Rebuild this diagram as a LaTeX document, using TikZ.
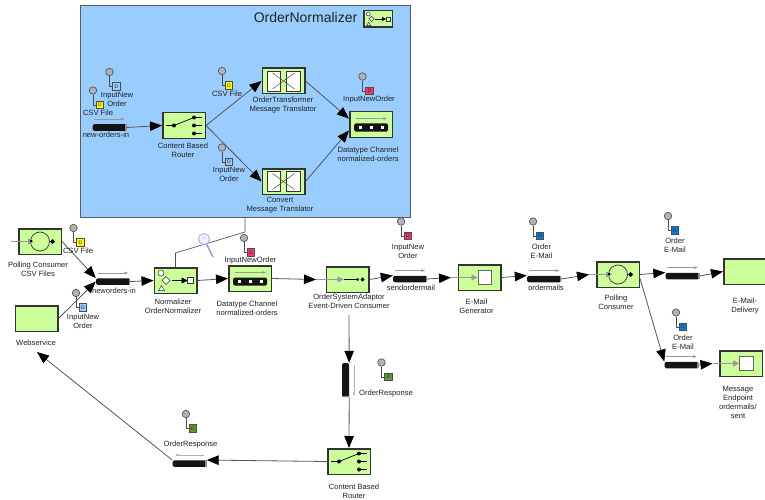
\documentclass[tikz,border=0pt]{standalone}
\usepackage{fontspec}
\setmainfont{Liberation Sans}
\usetikzlibrary{arrows.meta,shapes.geometric}

\definecolor{framefill}{HTML}{99CCFF}
\definecolor{boxfill}{HTML}{CCFF99}
\definecolor{boxline}{HTML}{333333}
\definecolor{wireline}{HTML}{555555}
\definecolor{markline}{HTML}{999999}
\definecolor{textcol}{HTML}{222222}
\definecolor{flagyellow}{HTML}{FFFF00}
\definecolor{flagpale}{HTML}{99CCFF}
\definecolor{flagred}{HTML}{FF3366}
\definecolor{flagblue}{HTML}{0080E0}
\definecolor{flaggreen}{HTML}{669933}

\tikzset{
  every node/.style={text=textcol},
  routeframe/.style={draw=boxline!80,line width=0.8pt,fill=framefill,minimum width=330pt,minimum height=212pt,inner sep=0},
  box/.style={draw=boxline,line width=1.5pt,fill=boxfill,minimum width=42.5pt,minimum height=25.5pt,inner sep=0},
  lbl/.style={font=\fontsize{7.6}{9}\selectfont,align=center,inner sep=0},
  pipebar/.style={fill=black!92,rounded corners=1.5pt,minimum width=34pt,minimum height=6.5pt,inner sep=0},
  wire/.style={draw=wireline,line width=0.8pt,-{Triangle[length=12pt,width=9.5pt,black]}},
  flowmark/.style={draw=markline,line width=0.7pt,-{Triangle[length=3.5pt,width=2.5pt]}},
  inflow/.style={draw=markline,line width=0.8pt,-{Triangle[length=6pt,width=6pt]}},
  pinhead/.style={circle,draw=black!70,line width=0.6pt,fill=black!30,minimum size=7.5pt,inner sep=0},
  pinflag/.style={draw=black!70,line width=0.6pt,minimum size=7.5pt,inner sep=0,font=\fontsize{5}{5}\selectfont},
  iconwhite/.style={draw=boxline,line width=0.7pt,fill=white},
}

% name, x, y
\newcommand{\pipe}[3]{
  \node[pipebar] (#1) at (#2,#3) {};
  \fill[black!45] ([xshift=-1.5pt]#1.north east) rectangle (#1.south east);
  \draw[flowmark] ([xshift=2pt,yshift=5pt]#1.north west) -- ([xshift=-2pt,yshift=5pt]#1.north east);
}
% name, x, y, colour
\newcommand{\datapin}[4]{
  \node[pinhead] (#1-head) at (#2,#3) {};
  \node[pinflag,fill=#4] (#1-flag) at (#2+7,#3+14.5) {D};
  \draw[draw=black!70,line width=0.6pt] (#1-head) |- (#1-flag);
}
\newcommand{\routericon}[1]{
  \begin{scope}[shift={(#1.center)}]
    \draw[line width=0.7pt] (-18,0) -- (-10,0) -- (10,-8);
    \foreach \y in {-8,0,8} {
      \draw[line width=0.7pt] (10,\y) -- (18,\y);
      \fill (10,\y) circle (2pt);
    }
    \fill (-10,0) circle (2pt);
  \end{scope}
}
\newcommand{\translatoricon}[1]{
  \begin{scope}[shift={(#1.center)}]
    \draw[iconwhite] (-16.5,-10) rectangle (-3.5,10);
    \draw[iconwhite] (2.5,-10) rectangle (16.5,10);
    \draw[black!70,line width=0.5pt] (-11,-8) -- (11,8);
    \draw[black!70,line width=0.5pt] (-11,8) -- (11,-8);
  \end{scope}
}
\newcommand{\datatypeicon}[1]{
  \begin{scope}[shift={(#1.center)}]
    \draw[flowmark] (-15,-6) -- (16,-6);
    \fill[black!92,rounded corners=1.5pt] (-17,-1) rectangle (17,7);
    \foreach \x in {-11,0,11}
      \fill[white] (\x-1.5,1.5) rectangle (\x+1.5,4.5);
  \end{scope}
}
\newcommand{\pollingicon}[1]{
  \begin{scope}[shift={(#1.center)}]
    \coordinate (#1-in) at (-29,0);
    \draw[boxline,line width=0.7pt] (0,0) circle (9.5pt);
    \draw[inflow] (#1-in) -- (-6,0);
    \fill (-9,-0.5) circle (1.3pt);
    \fill (10,0) -- (12.5,-2.5) -- (15,0) -- (12.5,2.5) -- cycle;
  \end{scope}
}
\newcommand{\eventicon}[1]{
  \begin{scope}[shift={(#1.center)}]
    \coordinate (#1-in) at (-31.5,0);
    \draw[inflow] (#1-in) -- (-4,0);
    \draw[line width=0.7pt] (-4,0) -- (10,0);
    \fill (10,0) circle (1.5pt);
    \fill (13,0) -- (15,-2.2) -- (17,0) -- (15,2.2) -- cycle;
  \end{scope}
}
\newcommand{\terminalicon}[1]{
  \begin{scope}[shift={(#1.center)}]
    \coordinate (#1-in) at (-28.5,0);
    \draw[inflow] (#1-in) -- (-2,0);
    \draw[iconwhite,draw=black!60] (-1.5,-7) rectangle (12,7);
  \end{scope}
}
% name, scale
\newcommand{\normalizericon}[2]{
  \begin{scope}[shift={(#1.center)},scale=#2]
    \draw[iconwhite,line width=0.5pt] (-14.5,-7.5) circle (3pt);
    \draw[iconwhite,line width=0.5pt] (-13.5,0) -- (-9.5,-4) -- (-5.5,0) -- (-9.5,4) -- cycle;
    \draw[iconwhite,line width=0.5pt] (-17,10) -- (-14,5) -- (-11,10) -- cycle;
    \draw[line width=0.7pt,-{Triangle[length=6pt,width=6pt,black,scale=#2]}] (-4,0) -- (12,0);
    \draw[iconwhite,line width=0.5pt] (12,-3) rectangle (18,3);
  \end{scope}
}

\begin{document}
\begin{tikzpicture}[x=1pt,y=-1pt]
\clip (0,0) rectangle (765,500);

% Sub route
\node[routeframe] (frame) at (245,111.5) {};
\node[font=\fontsize{14}{16}\selectfont,inner sep=0] (frame-title) at (305.5,17) {OrderNormalizer};
\node[box,minimum width=28.5pt,minimum height=16.5pt] (frame-icon) at (378,19) {};
\normalizericon{frame-icon}{0.67}

\pipe{sub-in}{109.5}{127.5}
\node[box] (sub-router) at (184,125.5) {};
\routericon{sub-router}
\node[box] (sub-transformer) at (283.5,81) {};
\translatoricon{sub-transformer}
\node[box] (sub-convert) at (283.5,181.5) {};
\translatoricon{sub-convert}
\node[box] (sub-datatype) at (371,124.5) {};
\datatypeicon{sub-datatype}

% Main route
\node[box] (csv-poller) at (40,241.5) {};
\pollingicon{csv-poller}
\node[box] (webservice) at (36.5,318.5) {};
\pipe{neworders}{113}{281.5}
\node[box] (normalizer) at (175.5,280.5) {};
\normalizericon{normalizer}{1}
\node[box] (datatype) at (250,278.5) {};
\datatypeicon{datatype}
\node[box] (adaptor) at (347.5,279.5) {};
\eventicon{adaptor}
\pipe{sendordermail}{410}{279}
\node[box] (generator) at (479.5,277.5) {};
\terminalicon{generator}
\pipe{ordermails}{544}{279}
\node[box] (mail-poller) at (618,274.5) {};
\pollingicon{mail-poller}
\pipe{delivery-pipe}{682.5}{276}
\node[box] (delivery) at (745,271.5) {};
\pipe{sent-pipe}{681.5}{365}
\node[box] (sent) at (741,363.5) {};
\terminalicon{sent}

% Response route
\node[pipebar,minimum width=7pt,minimum height=34pt] (response-in) at (345.5,380) {};
\fill[black!45] ([yshift=1.5pt]response-in.south west) rectangle (response-in.south east);
\draw[flowmark,draw=black!30] (354,365) -- (354,396);
\node[box] (response-router) at (349,461.5) {};
\routericon{response-router}
\node[pipebar] (response-out) at (189.5,463.5) {};
\fill[black!45] ([xshift=-1.5pt]response-out.north east) rectangle (response-out.south east);
\draw[flowmark,draw=black!30] (204,455) -- (175,455);

% Connectors
\coordinate (adaptor-out) at (349,315);
\coordinate (web-in) at (37,352);
\coordinate (link-a) at (175.5,253);
\coordinate (link-b) at (245,232);
\draw[wireline,line width=0.7pt] (normalizer.north) -- (link-a) -- (link-b) -- (frame.south);
\draw[wire] (sub-in.east) -- (sub-router.west);
\draw[wire] (sub-router.east) -- (sub-transformer.west);
\draw[wire] (sub-router.east) -- (sub-convert.west);
\draw[wire] (sub-transformer.east) -- (sub-datatype.165);
\draw[wire] (sub-convert.east) -- (sub-datatype.195);
\draw[wire] (csv-poller.east) -- (neworders.north west);
\draw[wire] (webservice.east) -- (neworders.west);
\draw[wire] (neworders.east) -- (normalizer.west);
\draw[wire] (normalizer.east) -- (datatype.west);
\draw[wire] (datatype.east) -- (adaptor-in);
\draw[wire] (adaptor.east) -- (sendordermail.north west);
\draw[wire] (sendordermail.east) -- (generator-in);
\draw[wire] (generator.east) -- (ordermails.north west);
\draw[wire] (ordermails.east) -- (mail-poller-in);
\draw[wire] (mail-poller.east) -- (delivery-pipe.north west);
\draw[wire] (delivery-pipe.east) -- (delivery.west);
\draw[wire] (mail-poller.-10) -- (sent-pipe.north west);
\draw[wire] (sent-pipe.east) -- (sent-in);
\draw[wire] (adaptor-out) -- (response-in.north east);
\draw[wire] (response-in.south east) -- (response-router.north);
\draw[wire] (response-router.west) -- (response-out.north east);
\draw[wire] (response-out.north west) -- (web-in);

% Magnifier
\node[circle,draw=black!20!blue!30,line width=1pt,fill=white!80!framefill,minimum size=11pt,inner sep=0,font=\fontsize{6}{6}\selectfont,text=black!20!blue!30] (magnifier) at (204,239) {+};
\coordinate (magnifier-end) at (213,257);
\draw[blue!30!black!40,line width=1.5pt] (magnifier) -- (magnifier-end);

% Data pins
\datapin{pin-a}{109.5}{72}{flagpale}
\datapin{pin-b}{93}{90.5}{flagyellow}
\datapin{pin-c}{222}{71}{flagyellow}
\datapin{pin-d}{222}{147.5}{flagpale}
\datapin{pin-e}{362.5}{76.5}{flagred}
\datapin{pin-f}{73.5}{228}{flagyellow}
\datapin{pin-g}{76}{293}{flagpale}
\datapin{pin-h}{244}{238}{flagred}
\datapin{pin-i}{401}{221.5}{flagred}
\datapin{pin-j}{533}{221.5}{flagblue}
\datapin{pin-k}{668}{216}{flagblue}
\datapin{pin-l}{676}{312.5}{flagblue}
\datapin{pin-m}{381.5}{362.5}{flaggreen}
\datapin{pin-n}{186}{414}{flaggreen}

% Labels
\node[lbl] (l-sub-in) at (106,135) {new-orders-in};
\node[lbl] (l-sub-router) at (183,150) {Content Based\\Router};
\node[lbl] (l-sub-transformer) at (283,105) {OrderTransformer\\Message Translator};
\node[lbl] (l-sub-convert) at (280,205) {Convert\\Message Translator};
\node[lbl] (l-sub-datatype) at (368,154) {Datatype Channel\\normalized-orders};
\node[lbl] (l-pin-a) at (117,99.5) {InputNew\\Order};
\node[lbl] (l-pin-b) at (98,113) {CSV File};
\node[lbl] (l-pin-c) at (227,93.5) {CSV File};
\node[lbl] (l-pin-d) at (229,174.5) {InputNew\\Order};
\node[lbl] (l-pin-e) at (369,99.5) {InputNewOrder};

\node[lbl] (l-csv-poller) at (38,269) {Polling Consumer\\CSV Files};
\node[lbl] (l-webservice) at (36,343) {Webservice};
\node[lbl] (l-pin-f) at (78,251) {CSV File};
\node[lbl] (l-pin-g) at (83,321) {InputNew\\Order};
\node[lbl] (l-neworders) at (114,291) {neworders-in};
\node[lbl] (l-normalizer) at (173,306.5) {Normalizer\\OrderNormalizer};
\node[lbl] (l-datatype) at (247,308.5) {Datatype Channel\\normalized-orders};
\node[lbl] (l-pin-h) at (250.5,261) {InputNewOrder};
\node[lbl] (l-adaptor) at (349,301.5) {OrderSystemAdaptor\\Event-Driven Consumer};
\node[lbl] (l-sendordermail) at (411,288) {sendordermail};
\node[lbl] (l-pin-i) at (408,251.5) {InputNew\\Order};
\node[lbl] (l-generator) at (476.5,306.5) {E-Mail\\Generator};
\node[lbl] (l-ordermails) at (546,288) {ordermails};
\node[lbl] (l-pin-j) at (541.5,251.5) {Order\\E-Mail};
\node[lbl] (l-mail-poller) at (616,302) {Polling\\Consumer};
\node[lbl] (l-pin-k) at (675,245.5) {Order\\E-Mail};
\node[lbl] (l-delivery) at (745,306.5) {E-Mail-\\Delivery};
\node[lbl] (l-pin-l) at (683,342.5) {Order\\E-Mail};
\node[lbl] (l-sent) at (738,402.5) {Message\\Endpoint\\ordermails/\\sent};
\node[lbl] (l-response-in) at (386,394) {OrderResponse};
\node[lbl] (l-response-router) at (354,491.5) {Content Based\\Router};
\node[lbl] (l-response-out) at (190.5,445) {OrderResponse};
\end{tikzpicture}
\end{document}
